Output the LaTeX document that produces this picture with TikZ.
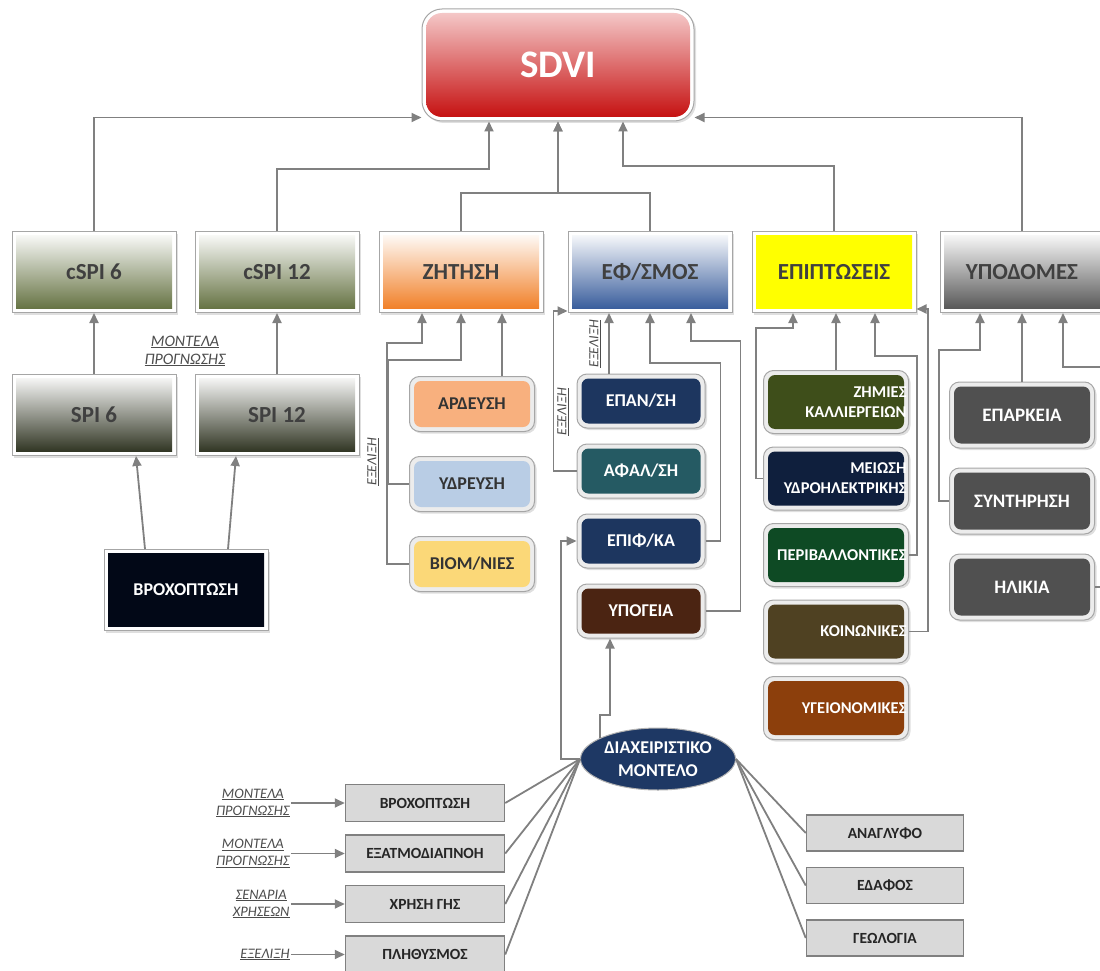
\documentclass[tikz,border=0pt]{standalone}
\usepackage{fontspec}
\setmainfont{Carlito}
\usepackage{xcolor}
\usepackage{tikz}
\usetikzlibrary{shapes,arrows.meta,positioning,shadows}

\definecolor{redtop}{RGB}{246,206,206}
\definecolor{redbot}{RGB}{196,10,10}
\definecolor{olivebot}{RGB}{94,108,58}
\definecolor{spibot}{RGB}{38,43,24}
\definecolor{orangebot}{RGB}{240,122,30}
\definecolor{steelbot}{RGB}{47,85,151}
\definecolor{infrabot}{RGB}{80,80,80}
\definecolor{nightfill}{RGB}{2,8,23}
\definecolor{peach}{RGB}{248,176,126}
\definecolor{paleblue}{RGB}{185,205,229}
\definecolor{paleyellow}{RGB}{251,216,120}
\definecolor{navyfill}{RGB}{29,54,95}
\definecolor{tealfill}{RGB}{37,90,99}
\definecolor{brownfill}{RGB}{75,36,18}
\definecolor{cropfill}{RGB}{62,78,26}
\definecolor{hydrofill}{RGB}{15,31,61}
\definecolor{envfill}{RGB}{14,74,36}
\definecolor{socialfill}{RGB}{79,65,34}
\definecolor{healthfill}{RGB}{140,63,12}
\definecolor{infrafill}{RGB}{80,80,80}
\definecolor{modelfill}{RGB}{30,56,100}

\begin{document}
\begin{tikzpicture}[x=1pt, y=-1pt]
\tikzstyle{line} = [draw=gray, line width=1.8pt, -{Triangle[length=10pt,width=9pt]}]
\tikzstyle{wire} = [draw=gray, line width=1.8pt]
\tikzstyle{note} = [font=\fontsize{14.5}{17}\selectfont\itshape, text=black!70, align=center, inner sep=1pt]
\tikzstyle{soft} = [drop shadow={shadow xshift=2pt, shadow yshift=-2pt, opacity=0.25}]
\tikzstyle{head} = [rectangle, rounded corners=20pt, draw=gray!70, line width=1pt, fill=white, soft,
  minimum width=272pt, minimum height=112pt, font=\fontsize{39}{42}\selectfont\bfseries, text=white,
  path picture={\shade[top color=redtop, bottom color=redbot, rounded corners=16pt]
    ([shift={(4pt,-4pt)}]path picture bounding box.north west) rectangle
    ([shift={(-4pt,4pt)}]path picture bounding box.south east);}]
\tikzstyle{datum} = [rectangle, draw=gray, fill=gray!30, line width=1.5pt, minimum width=159pt,
  minimum height=37pt, font=\fontsize{15.5}{18}\selectfont\bfseries, text=black!85]
\tikzset{
  panel/.style 2 args={rectangle, draw=gray!70, line width=1pt, fill=white, soft, minimum width=164pt,
    minimum height=81pt, font=\fontsize{23}{26}\selectfont\bfseries, text=black!75,
    path picture={\shade[top color=#1, bottom color=#2]
      ([shift={(4pt,-4pt)}]path picture bounding box.north west) rectangle
      ([shift={(-4pt,4pt)}]path picture bounding box.south east);}},
  tile/.style={rectangle, rounded corners=10pt, draw=gray!70, line width=1pt, fill=gray!15, soft,
    inner sep=2pt, font=\fontsize{18}{20}\selectfont\bfseries, text=white, align=center,
    path picture={\fill[#1, rounded corners=7pt]
      ([shift={(4.5pt,-4.5pt)}]path picture bounding box.north west) rectangle
      ([shift={(-4.5pt,4.5pt)}]path picture bounding box.south east);}},
  zsub/.style={tile=#1, text=black!80, minimum width=125pt, minimum height=55pt},
  esub/.style={tile=#1, minimum width=128pt, minimum height=54pt},
  isub/.style={tile=#1, minimum width=145pt, minimum height=63pt, text width=141pt, align=right,
    font=\fontsize{16.5}{20}\selectfont\bfseries},
  usub/.style={tile=infrafill, minimum width=145pt, minimum height=66pt, font=\fontsize{19}{22}\selectfont\bfseries},
  evol/.style={note, rotate=90, font=\fontsize{14}{16}\selectfont\itshape},
}

\useasboundingbox (0,0) rectangle (1100,971);
\clip (0,0) rectangle (1100,971);

% top of the tree
\node [head] (sdvi) at (558,65) {SDVI};

\node [panel={white}{olivebot}] (cspi6) at (94,272) {cSPI 6};
\node [panel={white}{olivebot}] (cspi12) at (277,272) {cSPI 12};
\node [panel={white}{orangebot}] (demand) at (461,272) {ΖΗΤΗΣΗ};
\node [panel={white}{steelbot}] (supply) at (650,272) {ΕΦ/ΣΜΟΣ};
\node [panel={yellow}{yellow}] (impacts) at (834,272) {ΕΠΙΠΤΩΣΕΙΣ};
\node [panel={white}{infrabot}] (infra) at (1022,272) {ΥΠΟΔΟΜΕΣ};

% drought indices
\node [panel={white}{spibot}] (spi6) at (94,415) {SPI 6};
\node [panel={white}{spibot}] (spi12) at (277,415) {SPI 12};
\node [panel={nightfill}{nightfill}, text=white, font=\fontsize{18}{20}\selectfont\bfseries] (rain) at (186,590) {ΒΡΟΧΟΠΤΩΣΗ};
\node [note, font=\fontsize{16}{18}\selectfont\itshape] (fcast) at (185,351) {\underline{ΜΟΝΤΕΛΑ}\\\underline{ΠΡΟΓΝΩΣΗΣ}};

% demand
\node [zsub=peach] (irrig) at (472,404) {ΑΡΔΕΥΣΗ};
\node [zsub=paleblue, below=24pt of irrig] (water) {ΥΔΡΕΥΣΗ};
\node [zsub=paleyellow, below=24pt of water] (indus) {ΒΙΟΜ/ΝΙΕΣ};
\node [evol] (evol1) at (373,462) {\underline{ΕΞΕΛΙΞΗ}};

% supply
\node [esub=navyfill] (recharge) at (641,401) {ΕΠΑΝ/ΣΗ};
\node [esub=tealfill, below=15pt of recharge] (desal) {ΑΦΑΛ/ΣΗ};
\node [esub=navyfill, below=15pt of desal] (surface) {ΕΠΙΦ/ΚΑ};
\node [esub=brownfill, below=15pt of surface] (ground) {ΥΠΟΓΕΙΑ};
\node [evol] (evol2) at (595,344) {\underline{ΕΞΕΛΙΞΗ}};
\node [evol] (evol3) at (563,412) {\underline{ΕΞΕΛΙΞΗ}};

% impacts
\node [isub=cropfill] (crops) at (836,402) {ΖΗΜΙΕΣ\\ΚΑΛΛΙΕΡΓΕΙΩΝ};
\node [isub=hydrofill, below=12.5pt of crops] (hydro) {ΜΕΙΩΣΗ\\ΥΔΡΟΗΛΕΚΤΡΙΚΗΣ};
\node [isub=envfill, below=12.5pt of hydro] (env) {ΠΕΡΙΒΑΛΛΟΝΤΙΚΕΣ};
\node [isub=socialfill, below=12.5pt of env] (social) {ΚΟΙΝΩΝΙΚΕΣ};
\node [isub=healthfill, below=12.5pt of social] (health) {ΥΓΕΙΟΝΟΜΙΚΕΣ};

% infrastructure
\node [usub] (adequacy) at (1022,415) {ΕΠΑΡΚΕΙΑ};
\node [usub, below=19pt of adequacy] (maint) {ΣΥΝΤΗΡΗΣΗ};
\node [usub, below=19pt of maint] (age) {ΗΛΙΚΙΑ};

% management model and its data
\node [ellipse, fill=modelfill, draw=gray!60, line width=1pt, minimum width=155pt, minimum height=62pt,
  inner sep=0pt, align=center, text=white, font=\fontsize{18}{23}\selectfont\bfseries] (model) at (658,759) {ΔΙΑΧΕΙΡΙΣΤΙΚΟ\\ΜΟΝΤΕΛΟ};

\node [datum] (rainfall) at (425,803) {ΒΡΟΧΟΠΤΩΣΗ};
\node [datum, below=12pt of rainfall] (evapo) {ΕΞΑΤΜΟΔΙΑΠΝΟΗ};
\node [datum, below=12pt of evapo] (landuse) {ΧΡΗΣΗ ΓΗΣ};
\node [datum, below=12pt of landuse] (pop) {ΠΛΗΘΥΣΜΟΣ};

\node [note, left=54pt of rainfall] (fc1) {\underline{ΜΟΝΤΕΛΑ}\\\underline{ΠΡΟΓΝΩΣΗΣ}};
\node [note, left=54pt of evapo] (fc2) {\underline{ΜΟΝΤΕΛΑ}\\\underline{ΠΡΟΓΝΩΣΗΣ}};
\node [note, left=54pt of landuse] (scen) {\underline{ΣΕΝΑΡΙΑ}\\\underline{ΧΡΗΣΕΩΝ}};
\node [note, left=54pt of pop] (growth) {\underline{ΕΞΕΛΙΞΗ}};

\node [datum, minimum width=157pt, minimum height=36pt] (relief) at (885,833) {ΑΝΑΓΛΥΦΟ};
\node [datum, minimum width=157pt, minimum height=36pt, below=15pt of relief] (soil) {ΕΔΑΦΟΣ};
\node [datum, minimum width=157pt, minimum height=36pt, below=15pt of soil] (geology) {ΓΕΩΛΟΓΙΑ};

% links to SDVI
\path [line] (cspi6.north) |- ([yshift=4pt]sdvi.south west);
\path [line] (infra.north) |- ([yshift=4pt]sdvi.south east);
\path [line] (cspi12.north) -- ++(0,-62) -| ([xshift=-69pt]sdvi.south);
\path [line] (demand.north) -- ++(0,-38) -| (sdvi.south);
\path [line] (supply.north) -- ++(0,-38) -| (sdvi.south);
\path [line] (impacts.north) -- ++(0,-65) -| ([xshift=65pt]sdvi.south);

% indices
\path [line] (spi6) -- (cspi6);
\path [line] (spi12) -- (cspi12);
\path [line] ([xshift=-41pt]rain.north) -- ([xshift=42pt]spi6.south);
\path [line] ([xshift=42pt]rain.north) -- ([xshift=-41pt]spi12.south);

% demand links
\path [line] ([xshift=30pt]irrig.north) -- ([xshift=30pt]irrig.north |- demand.south);
\path [line] (water.west) -- ++(-21,0) |- ([yshift=-47pt]demand.south) -- (demand.south);
\path [line] (indus.west) -- ++(-22,0) |- ([xshift=-39pt,yshift=-30pt]demand.south) -- ([xshift=-39pt]demand.south);

% supply links
\path [line] ([xshift=-32pt]recharge.north) -- ([xshift=-32pt]recharge.north |- supply.south);
\path [line] (surface.east) -- ++(15,0) |- ([yshift=-50pt]supply.south) -- (supply.south);
\path [line] (ground.east) -- ++(35,0) |- ([xshift=41pt,yshift=-28pt]supply.south) -- ([xshift=41pt]supply.south);
\path [line] (desal.west) -- ++(-23,0) |- ([yshift=2pt]supply.south west);
\path [line] (model.west) -- ++(-19,0) |- (surface.west);
\path [line] (model.160) -- ++(0,-23) -| ([xshift=-31pt]ground.south);

% impact links
\path [line] (crops.north) -- (crops.north |- impacts.south);
\path [line] (hydro.west) -- ++(-7,0) |- ([xshift=-41pt,yshift=-15pt]impacts.south) -- ([xshift=-41pt]impacts.south);
\path [line] (env.east) -- ++(8,0) |- ([xshift=41pt,yshift=-43pt]impacts.south) -- ([xshift=41pt]impacts.south);
\path [line] (social.east) -- ++(19,0) |- ([yshift=4pt]impacts.south east);

% infrastructure links
\path [line] (adequacy.north) -- (adequacy.north |- infra.south);
\path [line] (maint.west) -- ++(-10,0) |- ([xshift=-42pt,yshift=-37pt]infra.south) -- ([xshift=-42pt]infra.south);
\path [line] (age.east) -- ++(10,0) |- ([xshift=41pt,yshift=-54pt]infra.south) -- ([xshift=41pt]infra.south);

% model inputs
\path [line] (fc1.east) -- (rainfall.west);
\path [line] (fc2.east) -- (evapo.west);
\path [line] (scen.east) -- (landuse.west);
\path [line] (growth.east) -- (pop.west);
\path [wire] (rainfall.east) -- (model.west);
\path [wire] (evapo.east) -- (model.west);
\path [wire] (landuse.east) -- (model.west);
\path [wire] (pop.east) -- (model.west);
\path [wire] (model.east) -- (relief.west);
\path [wire] (model.east) -- (soil.west);
\path [wire] (model.east) -- (geology.west);
\end{tikzpicture}
\end{document}
